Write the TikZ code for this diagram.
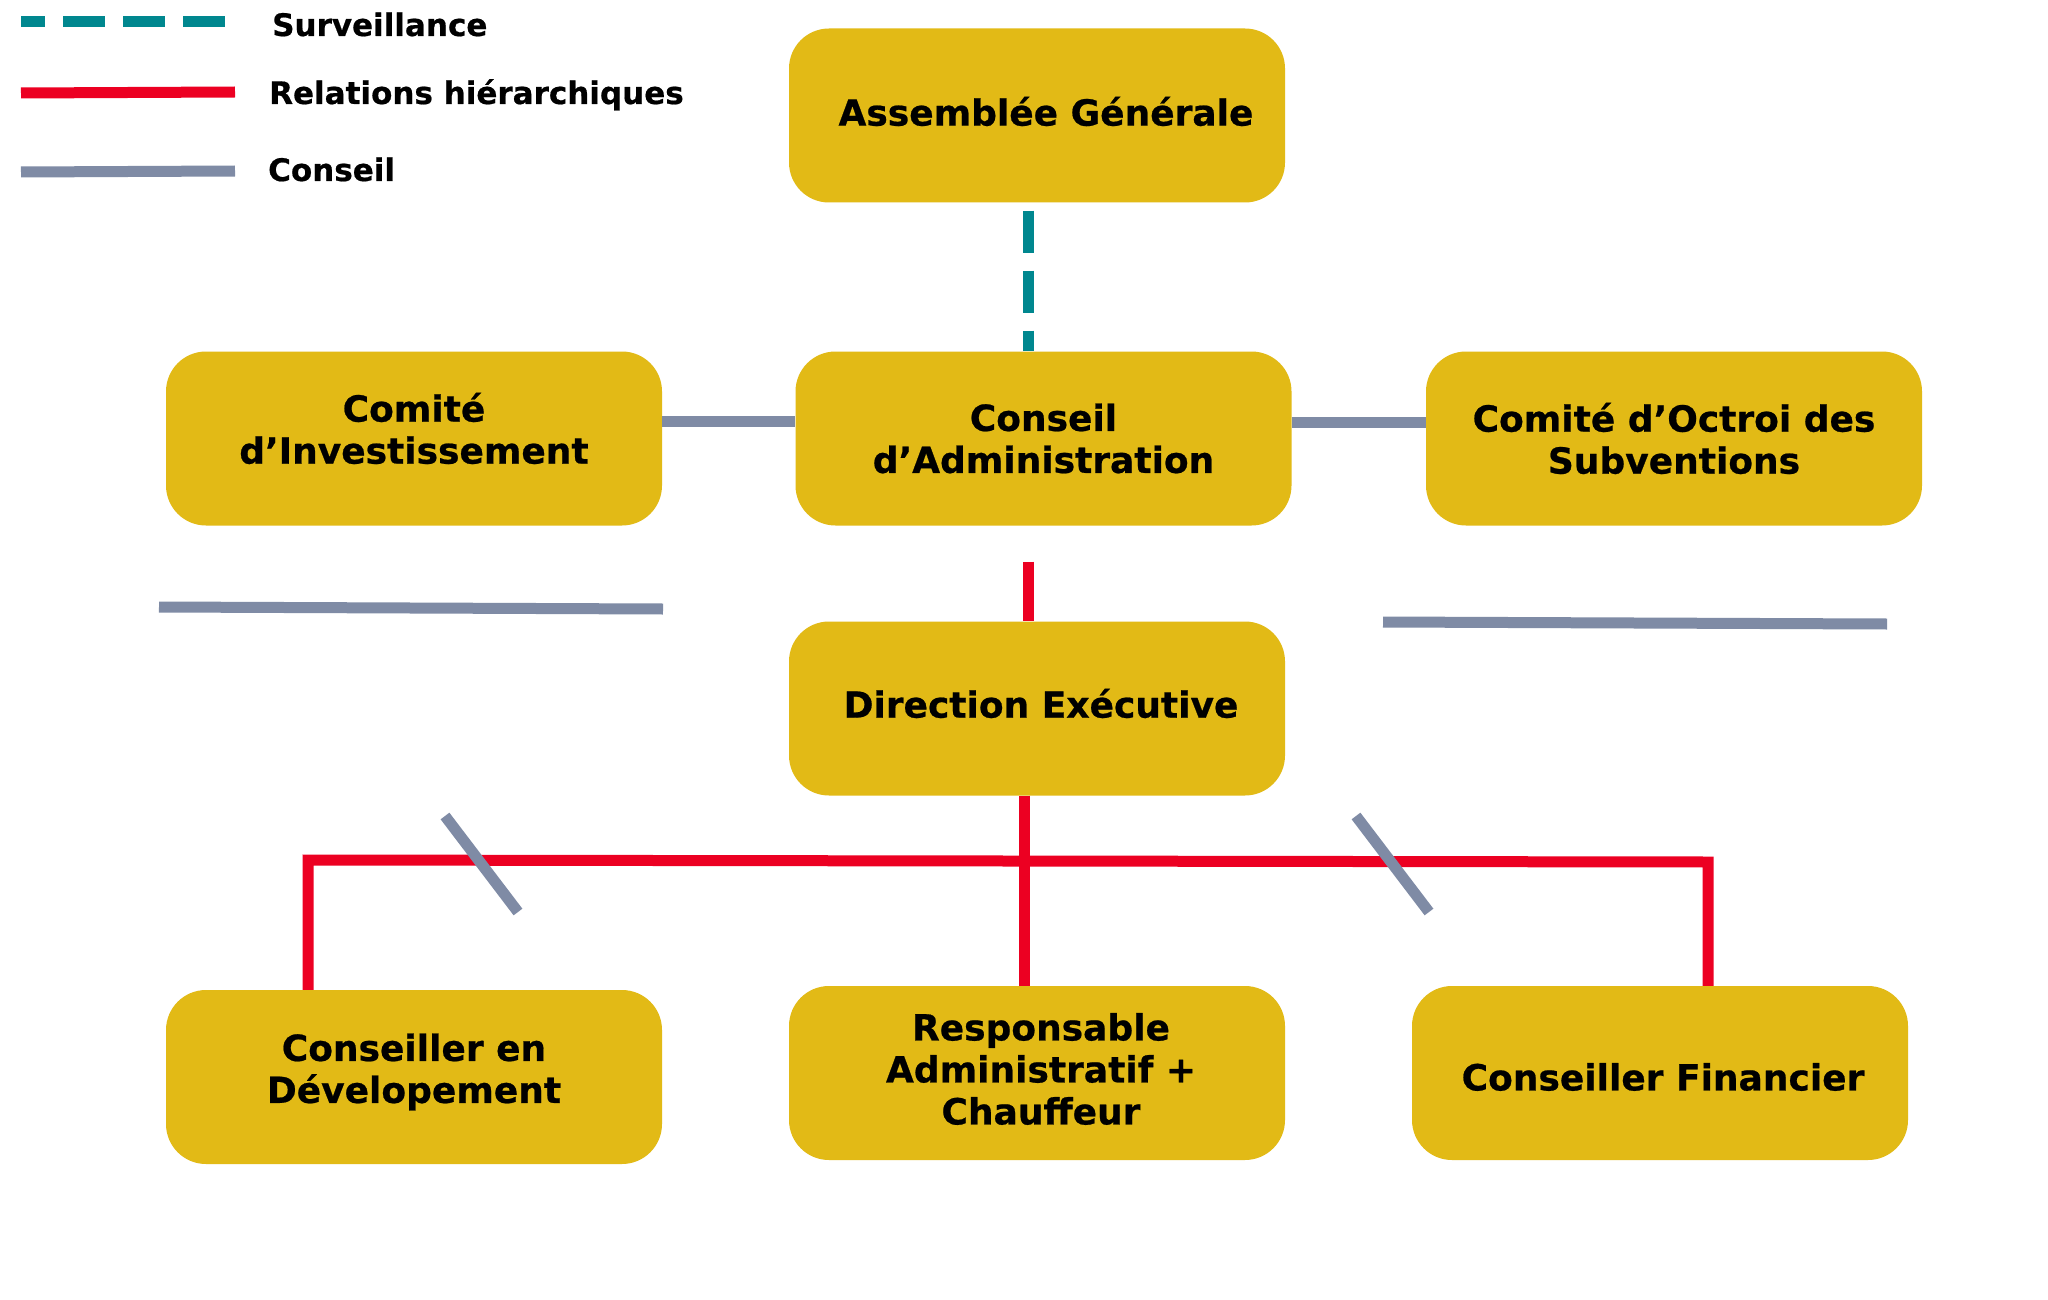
\documentclass[tikz,border=0pt]{standalone}
\usepackage{fontspec}
\setmainfont{DejaVu Sans}
\newfontfamily\boxfont{DejaVu Sans}[BoldFeatures={FakeBold=0.6}]
\definecolor{gold}{HTML}{E2BA16}
\definecolor{hred}{HTML}{EC0022}
\definecolor{cgray}{HTML}{7F8BA5}
\definecolor{steal}{HTML}{00878F}
\begin{document}
\begin{tikzpicture}[x=1pt,y=-1pt,
 box/.style={draw=none, fill=gold, rounded corners=40pt, minimum width=496pt, minimum height=174pt, inner sep=0pt},
 txt/.style={align=center, inner sep=0pt, font=\boxfont\bfseries\fontsize{36}{42}\selectfont},
 surv/.style={draw=steal, line width=11pt, dash pattern=on 42pt off 18pt},
 hier/.style={draw=hred, line width=11pt, line join=miter},
 cons/.style={draw=cgray, line width=11pt},
 legtext/.style={anchor=base west, inner sep=0pt, font=\boxfont\bfseries\fontsize{31}{36}\selectfont}]
\fill[white] (0,0) rectangle (2048,1300);
\useasboundingbox (0,0) rectangle (2048,1300);

% boxes
\node[box] (AG) at (1037,115.5) {};
\node[box] (CI) at (414,438.5) {};
\node[box] (CA) at (1043.5,438.5) {};
\node[box] (COS) at (1674,438.5) {};
\node[box] (DE) at (1037,708.5) {};
\node[box] (CD) at (414,1077) {};
\node[box] (RA) at (1037,1073) {};
\node[box] (CF) at (1660,1073) {};

% box texts
\node[txt] (AGt) at ([xshift=9pt,yshift=4pt]AG.center) {Assemblée Générale};
\node[txt] (CIt) at ([yshift=10pt]CI.center) {Comité\\d’Investissement};
\node[txt] (CAt) at (CA.center) {Conseil\\d’Administration};
\node[txt] (COSt) at (COS.center) {Comité d’Octroi des\\Subventions};
\node[txt] (DEt) at ([xshift=4pt,yshift=5pt]DE.center) {Direction Exécutive};
\node[txt] (CDt) at ([yshift=5pt]CD.center) {Conseiller en\\Dévelopement};
\node[txt] (RAt) at ([xshift=4pt,yshift=4pt]RA.center) {Responsable\\Administratif +\\Chauffeur};
\node[txt] (CFt) at ([xshift=3pt,yshift=-4pt]CF.center) {Conseiller Financier};

% legend
\coordinate (l1a) at (21,22); \coordinate (l1b) at (230,22);
\coordinate (l2a) at (21,93); \coordinate (l2b) at (235,92);
\coordinate (l3a) at (21,172); \coordinate (l3b) at (235,171);
\draw[surv, dash phase=18pt] (l1a) -- (l1b);
\draw[hier] (l2a) -- (l2b);
\draw[cons] (l3a) -- (l3b);
\node[legtext] (t1) at (272,36) {Surveillance};
\node[legtext] (t2) at (269,104) {Relations hiérarchiques};
\node[legtext] (t3) at (268,181) {Conseil};

% surveillance
\coordinate (tv) at (1028,0);
\draw[surv] ([yshift=-8pt]AG.south -| tv) -- (CA.north -| tv);

% hierarchy
\draw[hier] ([yshift=-36pt]CA.south -| tv) -- (DE.north -| tv);
\coordinate (rv) at (1024,861);
\coordinate (hl) at (308,860);
\coordinate (hr) at (1708,862);
\draw[hier] (DE.south -| rv) -- (RA.north -| rv);
\draw[hier] (CD.north -| hl) -- (hl) -- (hr) -- (CF.north -| hr);

% conseil
\draw[cons] ([yshift=17pt]CI.east) -- ([yshift=17pt]CA.west);
\draw[cons] ([yshift=16pt]CA.east) -- ([yshift=16pt]COS.west);
\coordinate (g1a) at (159,607); \coordinate (g1b) at (663,609);
\coordinate (g2a) at (1383,622); \coordinate (g2b) at (1887,624);
\coordinate (d1a) at (445,816); \coordinate (d1b) at (518,912);
\coordinate (d2a) at (1356,816); \coordinate (d2b) at (1429,912);
\draw[cons] (g1a) -- (g1b);
\draw[cons] (g2a) -- (g2b);
\draw[cons] (d1a) -- (d1b);
\draw[cons] (d2a) -- (d2b);
\end{tikzpicture}
\end{document}
